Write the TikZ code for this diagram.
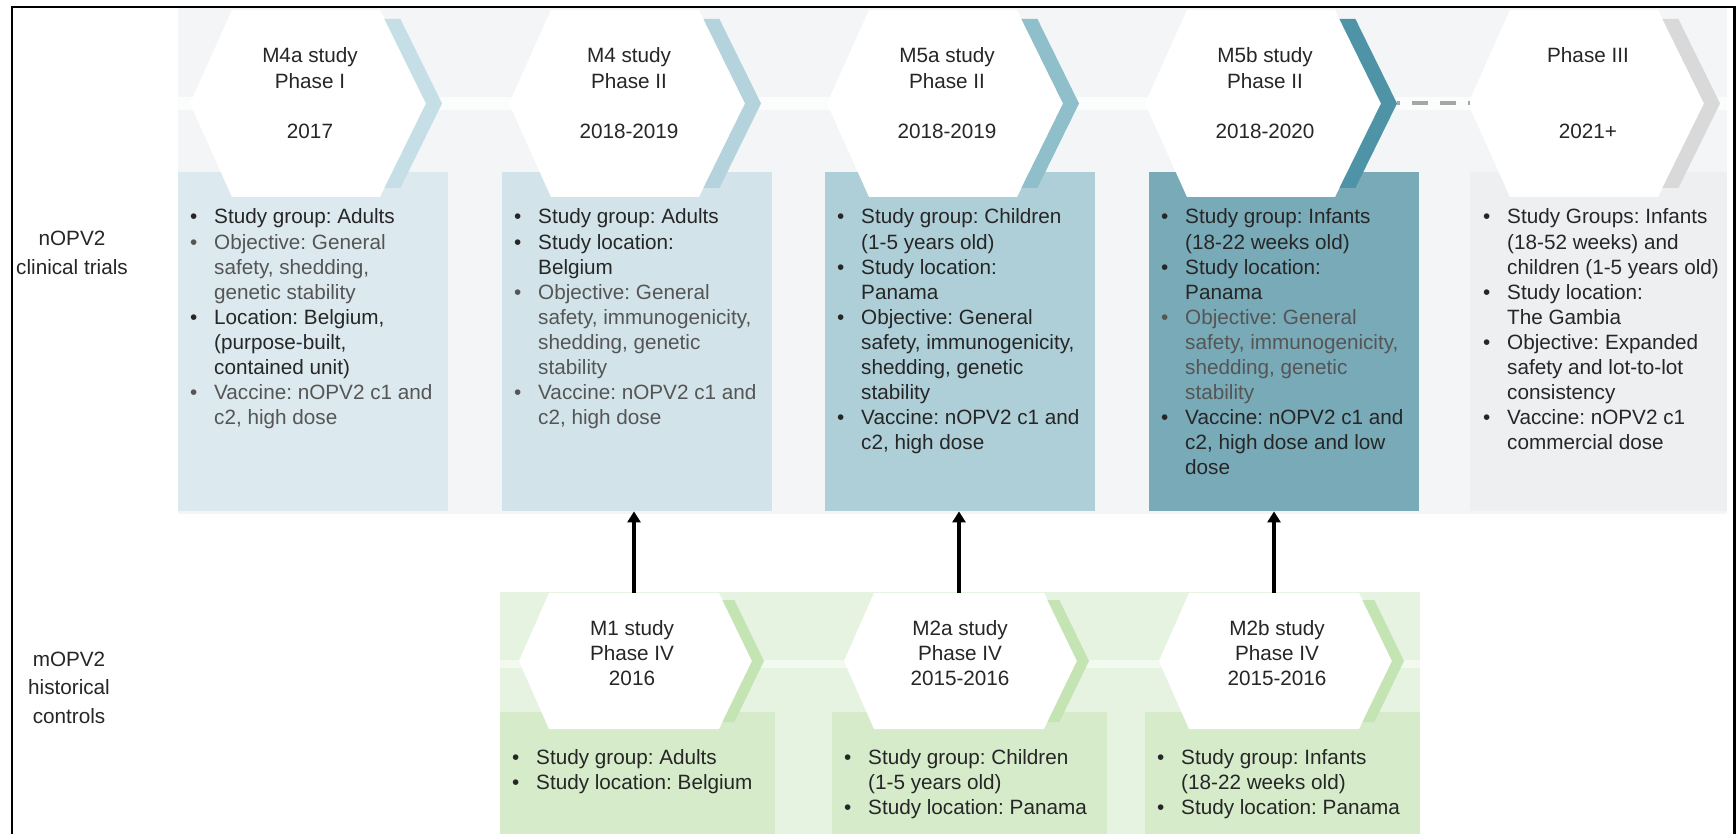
\documentclass[tikz,border=0pt]{standalone}
\usepackage{fontspec}
\setmainfont{Liberation Sans}
\usetikzlibrary{arrows.meta}
\definecolor{bgtop}{HTML}{F3F5F6}
\definecolor{stripetop}{HTML}{FBFCFC}
\definecolor{boxa}{HTML}{DCE9EE}
\definecolor{boxb}{HTML}{D2E4EA}
\definecolor{boxc}{HTML}{AECFD8}
\definecolor{boxd}{HTML}{79AAB8}
\definecolor{boxe}{HTML}{EEEFF0}
\definecolor{chva}{HTML}{C6DEE5}
\definecolor{chvb}{HTML}{B4D3DC}
\definecolor{chvc}{HTML}{8FBFCB}
\definecolor{chvd}{HTML}{4E93A6}
\definecolor{chve}{HTML}{D9D9D9}
\definecolor{bggreen}{HTML}{E7F3E1}
\definecolor{stripegreen}{HTML}{F2F9EF}
\definecolor{boxgreen}{HTML}{D5EBCA}
\definecolor{chvgreen}{HTML}{C5E4B4}
\definecolor{dashcol}{HTML}{A6A6A6}
\definecolor{txtc}{HTML}{262626}
\definecolor{txtg}{HTML}{555555}

\frenchspacing
\newcommand\myfs{\fontsize{20.7pt}{25.1pt}\selectfont\frenchspacing}
\newcommand\myfsl{\fontsize{20.7pt}{28.8pt}\selectfont\frenchspacing}
\newcommand\bul[1]{\makebox[24pt][l]{\textbullet}#1}
\newcommand\cont[1]{\hspace*{24pt}#1}
\newcommand\bulg[1]{\textcolor{txtg}{\makebox[24pt][l]{\textbullet}#1}}
\newcommand\contg[1]{\textcolor{txtg}{\hspace*{24pt}#1}}

\tikzset{
  tbox/.style={anchor=north west, inner sep=0pt, minimum width=270pt, minimum height=339pt, draw=none},
  bbox/.style={anchor=north west, inner sep=0pt, minimum width=275pt, minimum height=122pt, draw=none, fill=boxgreen},
  txt/.style={anchor=base west, inner sep=0pt, font=\myfs, text=txtc},
  hdr/.style={anchor=base, inner sep=0pt, font=\myfs, text=txtc},
  lbl/.style={anchor=base, inner sep=0pt, font=\myfsl, text=txtc},
  hexbb/.style={inner sep=0pt, draw=none},
  arr/.style={line width=3.5pt, -{Triangle[length=11pt,width=13pt]}},
  dashln/.style={draw=dashcol, line width=4pt, dash pattern=on 16pt off 12pt, dash phase=13pt},
  pics/tophex/.style={code={
    \fill[white] (-78,10) -- (70,10) -- (116,103.5) -- (70,197) -- (-78,197) -- (-120,103.5) -- cycle;
    \fill[#1] (74.4,19) -- (90.4,19) -- (132,103.5) -- (90.4,188) -- (74.4,188) -- (116,103.5) -- cycle;
  }},
  pics/bothex/.style={code={
    \fill[white] (-85,593) -- (85,593) -- (118,661) -- (85,729) -- (-85,729) -- (-115,661) -- cycle;
    \fill[#1] (88.4,600) -- (100.4,600) -- (130,661) -- (100.4,722) -- (88.4,722) -- (118,661) -- cycle;
  }},
}

\begin{document}
\begin{tikzpicture}[x=1pt, y=-1pt]
\useasboundingbox (0,0) rectangle (1736,834);
\fill[white] (0,0) rectangle (1736,834);

% ---------- top row background ----------
\fill[bgtop] (178,8) rectangle (1727,514);
\fill[stripetop] (178,97) rectangle (1727,110);

% ---------- top boxes ----------
\node[tbox, fill=boxa] (tb1) at (178,172) {};
\node[tbox, fill=boxb] (tb2) at (502,172) {};
\node[tbox, fill=boxc] (tb3) at (825,172) {};
\node[tbox, fill=boxd] (tb4) at (1149,172) {};
\node[tbox, fill=boxe, minimum width=257pt] (tb5) at (1470,172) {};

% ---------- top hexagons ----------
\pic at (310,0) {tophex=chva};
\pic at (629,0) {tophex=chvb};
\pic at (947,0) {tophex=chvc};
\pic at (1265,0) {tophex=chvd};
\pic at (1588,0) {tophex=chve};
\node[hexbb, minimum width=236pt, minimum height=187pt] (th5) at (1588,103.5) {};
\coordinate (ch4) at (1397,103.5);
\draw[dashln] (ch4) -- (th5.west);

\node[hdr] (h1) at (310,63) {\begin{tabular}[t]{@{}c@{}}M4a study\\Phase I\\ \\2017\end{tabular}};
\node[hdr] (h2) at (629,63) {\begin{tabular}[t]{@{}c@{}}M4 study\\Phase II\\ \\2018-2019\end{tabular}};
\node[hdr] (h3) at (947,63) {\begin{tabular}[t]{@{}c@{}}M5a study\\Phase II\\ \\2018-2019\end{tabular}};
\node[hdr] (h4) at (1265,63) {\begin{tabular}[t]{@{}c@{}}M5b study\\Phase II\\ \\2018-2020\end{tabular}};
\node[hdr] (h5) at (1588,63) {\begin{tabular}[t]{@{}c@{}}Phase III\\ \\ \\2021+\end{tabular}};

% ---------- top box texts ----------
\node[txt] (t1) at (190,224) {\begin{tabular}[t]{@{}l@{}}
\bul{Study group: Adults}\\
\bulg{Objective: General}\\
\contg{safety, shedding,}\\
\contg{genetic stability}\\
\bul{Location: Belgium,}\\
\cont{(purpose-built,}\\
\cont{contained unit)}\\
\bulg{Vaccine: nOPV2 c1 and}\\
\contg{c2, high dose}
\end{tabular}};
\node[txt] (t2) at (514,224) {\begin{tabular}[t]{@{}l@{}}
\bul{Study group: Adults}\\
\bul{Study location:}\\
\cont{Belgium}\\
\bulg{Objective: General}\\
\contg{safety, immunogenicity,}\\
\contg{shedding, genetic}\\
\contg{stability}\\
\bulg{Vaccine: nOPV2 c1 and}\\
\contg{c2, high dose}
\end{tabular}};
\node[txt] (t3) at (837,224) {\begin{tabular}[t]{@{}l@{}}
\bul{Study group: Children}\\
\cont{(1-5 years old)}\\
\bul{Study location:}\\
\cont{Panama}\\
\bul{Objective: General}\\
\cont{safety, immunogenicity,}\\
\cont{shedding, genetic}\\
\cont{stability}\\
\bul{Vaccine: nOPV2 c1 and}\\
\cont{c2, high dose}
\end{tabular}};
\node[txt] (t4) at (1161,224) {\begin{tabular}[t]{@{}l@{}}
\bul{Study group: Infants}\\
\cont{(18-22 weeks old)}\\
\bul{Study location:}\\
\cont{Panama}\\
\bulg{Objective: General}\\
\contg{safety, immunogenicity,}\\
\contg{shedding, genetic}\\
\contg{stability}\\
\bul{Vaccine: nOPV2 c1 and}\\
\cont{c2, high dose and low}\\
\cont{dose}
\end{tabular}};
\node[txt] (t5) at (1483,224) {\begin{tabular}[t]{@{}l@{}}
\bul{Study Groups: Infants}\\
\cont{(18-52 weeks) and}\\
\cont{children (1-5 years old)}\\
\bul{Study location:}\\
\cont{The Gambia}\\
\bul{Objective: Expanded}\\
\cont{safety and lot-to-lot}\\
\cont{consistency}\\
\bul{Vaccine: nOPV2 c1}\\
\cont{commercial dose}
\end{tabular}};

% ---------- bottom row ----------
\fill[bggreen] (500,592) rectangle (1420,834);
\fill[stripegreen] (500,660) rectangle (1420,668);
\node[bbox] (bb1) at (500,712) {};
\node[bbox] (bb2) at (832,712) {};
\node[bbox] (bb3) at (1145,712) {};

\pic at (634,0) {bothex=chvgreen};
\pic at (959,0) {bothex=chvgreen};
\pic at (1274,0) {bothex=chvgreen};
\node[hexbb, minimum width=233pt, minimum height=136pt] (bh1) at (634,661) {};
\node[hexbb, minimum width=233pt, minimum height=136pt] (bh2) at (959,661) {};
\node[hexbb, minimum width=233pt, minimum height=136pt] (bh3) at (1274,661) {};

\node[hdr] (g1) at (632,635) {\begin{tabular}[t]{@{}c@{}}M1 study\\Phase IV\\2016\end{tabular}};
\node[hdr] (g2) at (960,635) {\begin{tabular}[t]{@{}c@{}}M2a study\\Phase IV\\2015-2016\end{tabular}};
\node[hdr] (g3) at (1277,635) {\begin{tabular}[t]{@{}c@{}}M2b study\\Phase IV\\2015-2016\end{tabular}};

\node[txt] (s1) at (512,764) {\begin{tabular}[t]{@{}l@{}}
\bul{Study group: Adults}\\
\bul{Study location: Belgium}
\end{tabular}};
\node[txt] (s2) at (844,764) {\begin{tabular}[t]{@{}l@{}}
\bul{Study group: Children}\\
\cont{(1-5 years old)}\\
\bul{Study location: Panama}
\end{tabular}};
\node[txt] (s3) at (1157,764) {\begin{tabular}[t]{@{}l@{}}
\bul{Study group: Infants}\\
\cont{(18-22 weeks old)}\\
\bul{Study location: Panama}
\end{tabular}};

% ---------- arrows ----------
\draw[arr] (bh1.north) -- (bh1.north |- tb2.south);
\draw[arr] (bh2.north) -- (bh2.north |- tb3.south);
\draw[arr] (bh3.north) -- (bh3.north |- tb4.south);

% ---------- row labels ----------
\node[lbl] (l1) at (72,246) {\begin{tabular}[t]{@{}c@{}}nOPV2\\clinical trials\end{tabular}};
\node[lbl] (l2) at (69,666) {\begin{tabular}[t]{@{}c@{}}mOPV2\\historical\\controls\end{tabular}};

% ---------- frame ----------
\draw[line width=2.5pt] (12,834) -- (12,7) -- (1734.5,7) -- (1734.5,834);
\end{tikzpicture}
\end{document}
